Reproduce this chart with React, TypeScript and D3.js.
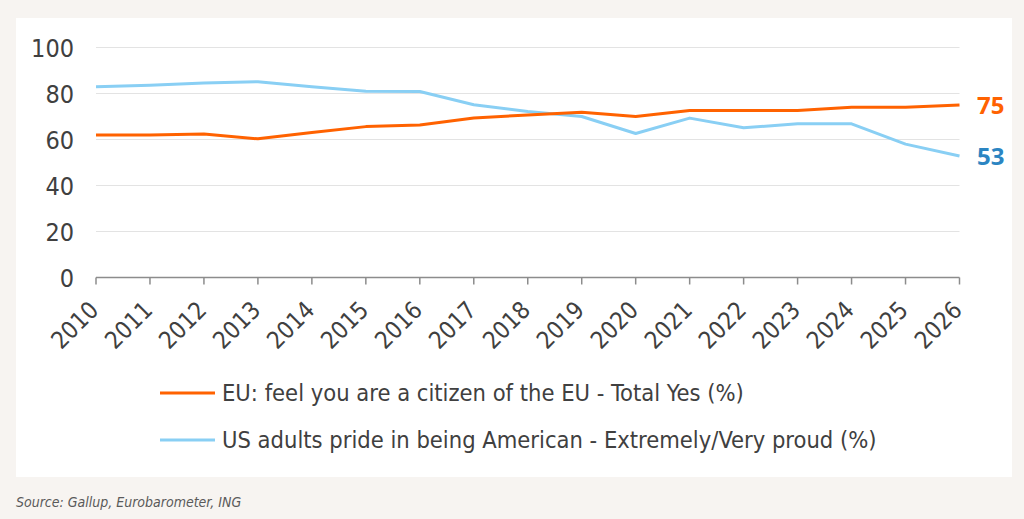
import React from "react";
import * as d3 from "d3";

const years = [2010, 2011, 2012, 2013, 2014, 2015, 2016, 2017, 2018, 2019, 2020, 2021, 2022, 2023, 2024, 2025, 2026];
const euValues = [62, 62, 62.4, 60.3, 63, 65.6, 66.3, 69.3, 70.7, 71.8, 70, 72.6, 72.6, 72.6, 74, 74, 75];
const usValues = [82.9, 83.6, 84.6, 85.1, 82.9, 81, 80.9, 75.1, 72.2, 70, 62.6, 69.3, 65.1, 66.8, 66.8, 58, 52.8];
const yTicks = [0, 20, 40, 60, 80, 100];
const euLabel = "EU: feel you are a citizen of the EU - Total Yes (%)";
const usLabel = "US adults pride in being American - Extremely/Very proud (%)";
const euEndLabel = "75";
const usEndLabel = "53";
const sourceText = "Source: Gallup, Eurobarometer, ING";

const W = 1024;
const H = 519;
const FONT = "'DejaVu Sans Condensed', 'Liberation Sans Narrow', sans-serif";
const ORANGE = "#ff6200";
const LIGHTBLUE = "#89cff4";
const DARKBLUE = "#2b85c2";
const TEXT = "#404040";

export default function App() {
  const x = d3.scaleLinear().domain([2010, 2026]).range([96, 959.5]);
  const y = d3.scaleLinear().domain([0, 100]).range([277.5, 47.5]);
  const line = d3
    .line<number>()
    .x((_, i) => x(years[i]))
    .y((d) => y(d));

  return (
    <div style={{ position: "absolute", left: 0, top: 0, width: W, height: H }}>
      <svg width={W} height={H} style={{ display: "block" }} fontFamily={FONT}>
        <rect x={0} y={0} width={W} height={H} fill="#f7f4f1" />
        <rect x={16} y={18} width={996} height={459} fill="#ffffff" />
        {yTicks.map((t) => (
          <g key={t}>
            {t > 0 && (
              <line x1={x(2010)} x2={x(2026)} y1={y(t)} y2={y(t)} stroke="#e3e3e3" strokeWidth={1} />
            )}
            <text x={74} y={y(t)} dy="0.36em" textAnchor="end" fontSize={25} fill={TEXT}>
              {t}
            </text>
          </g>
        ))}
        <line x1={x(2010)} x2={x(2026)} y1={y(0)} y2={y(0)} stroke="#8c8c8c" strokeWidth={1.5} />
        {years.map((yr) => (
          <g key={yr}>
            <line x1={x(yr)} x2={x(yr)} y1={y(0)} y2={y(0) + 7} stroke="#8c8c8c" strokeWidth={1.5} />
            <text
              transform={`translate(${x(yr) + 4},${y(0) + 34}) rotate(-45)`}
              textAnchor="end"
              fontSize={24}
              fill={TEXT}
            >
              {yr}
            </text>
          </g>
        ))}
        <path d={line(usValues) ?? ""} fill="none" stroke={LIGHTBLUE} strokeWidth={3} strokeLinejoin="round" />
        <path d={line(euValues) ?? ""} fill="none" stroke={ORANGE} strokeWidth={3} strokeLinejoin="round" />
        <text x={977} y={y(euValues[euValues.length - 1])} dy="0.36em" fontSize={24} fontWeight="bold" fill={ORANGE} fontFamily="'Open Sans', sans-serif">
          {euEndLabel}
        </text>
        <text x={977} y={y(usValues[usValues.length - 1])} dy="0.36em" fontSize={24} fontWeight="bold" fill={DARKBLUE} fontFamily="'Open Sans', sans-serif">
          {usEndLabel}
        </text>
        <line x1={160} x2={215} y1={393} y2={393} stroke={ORANGE} strokeWidth={3} />
        <text x={222} y={393} dy="0.36em" fontSize={23.5} fill={TEXT}>
          {euLabel}
        </text>
        <line x1={160} x2={215} y1={440} y2={440} stroke={LIGHTBLUE} strokeWidth={3} />
        <text x={222} y={440} dy="0.36em" fontSize={23.5} fill={TEXT}>
          {usLabel}
        </text>
        <text x={16} y={507} fontSize={14} fontStyle="italic" fill="#5a5a5a">
          {sourceText}
        </text>
      </svg>
    </div>
  );
}
